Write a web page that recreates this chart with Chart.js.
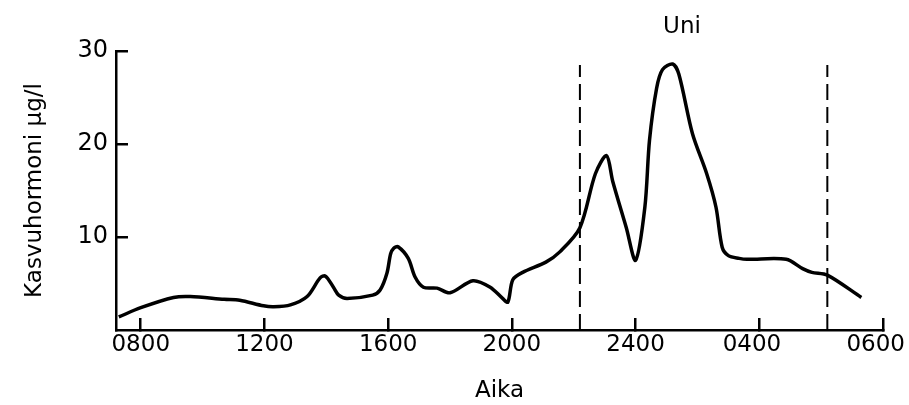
<!DOCTYPE html>
<html>
<head>
<meta charset="utf-8">
<script src="https://cdn.jsdelivr.net/npm/chart.js@4"></script>
<style>
    html, body { margin: 0; padding: 0; background: #fff; }
    canvas { display: block; }
</style>
</head>
<body>
<canvas id="growthChart" width="909" height="405"></canvas>
<script>
// tick labels as printed on the time axis (evenly spaced in the original)
const tickLabels = ['0800', '1200', '1600', '2000', '2400', '0400', '0600'];
const tickHours = [0, 4, 8, 12, 16, 20, 24];
const yTicks = [10, 20, 30];

// hours along the drawn axis (0 = 0800) and hormone level, µg/l
const hours = [-0.71, 0, 1.06, 1.6, 2.7, 3.2, 3.97, 4.3, 4.84, 5.38, 5.8, 5.97, 6.23, 6.4, 6.67,
    7.5, 7.74, 7.96, 8.08, 8.18, 8.32, 8.65, 8.87, 9.14, 9.58, 10, 10.74, 11.3, 11.7, 11.87, 12.03,
    12.35, 13.1, 13.55, 14.2, 14.7, 15.06, 15.26, 15.7, 16.0, 16.3, 16.45, 16.68, 16.87, 17.2,
    17.4, 17.84, 18.3, 18.6, 18.8, 19.0, 19.35, 19.6, 20.87, 21.4, 21.7, 22.2, 23.3];
const hormone = [1.4, 2.4, 3.5, 3.6, 3.3, 3.2, 2.6, 2.5, 2.7, 3.6, 5.6, 5.8, 4.6, 3.75, 3.4,
    3.75, 4.3, 6.1, 8.2, 8.8, 8.95, 7.7, 5.7, 4.6, 4.5, 4.0, 5.3, 4.6, 3.4, 3.0, 5.4,
    6.2, 7.3, 8.4, 11, 16.8, 18.75, 16, 11, 7.5, 13.2, 20.4, 26, 28, 28.6,
    27.5, 21.1, 16.8, 13.2, 8.9, 8.0, 7.7, 7.6, 7.6, 6.6, 6.2, 5.9, 3.5];

// sleep period ("Uni") markers
const sleepStart = 14.2;
const sleepEnd = 22.2;
const sleepLineTop = 28.5;
const uniAt = 17.5;
const uniLevel = 32.6;

const ink = '#000';
Chart.defaults.font.family = '"DejaVu Sans", sans-serif';
Chart.defaults.color = ink;

const uniLabel = {
    id: 'uniLabel',
    afterDatasetsDraw(chart) {
        const { ctx, scales: { x, y } } = chart;
        ctx.save();
        ctx.font = '23px "DejaVu Sans"';
        ctx.fillStyle = ink;
        ctx.textAlign = 'center';
        ctx.textBaseline = 'middle';
        ctx.fillText('Uni', x.getPixelForValue(uniAt), y.getPixelForValue(uniLevel));
        ctx.restore();
    }
};

const sleepLine = (h) => ({
    data: [{ x: h, y: 0 }, { x: h, y: sleepLineTop }],
    borderColor: ink,
    borderWidth: 2,
    borderDash: [16, 7],
    pointRadius: 0,
    tension: 0,
    fill: false
});

const ctx = document.getElementById('growthChart').getContext('2d');
const growthChart = new Chart(ctx, {
    type: 'line',
    data: {
        datasets: [
            {
                data: hours.map((h, i) => ({ x: h, y: hormone[i] })),
                borderColor: ink,
                borderWidth: 3.5,
                borderJoinStyle: 'round',
                pointRadius: 0,
                tension: 0.3,
                fill: false
            },
            sleepLine(sleepStart),
            sleepLine(sleepEnd)
        ]
    },
    options: {
        responsive: false,
        animation: false,
        layout: { padding: { top: 51, right: 26, left: 0, bottom: 0 } },
        plugins: {
            legend: { display: false },
            tooltip: { enabled: false }
        },
        scales: {
            x: {
                type: 'linear',
                min: -0.8,
                max: 24,
                afterBuildTicks: scale => { scale.ticks = tickHours.map(v => ({ value: v })); },
                afterFit: scale => { scale.height = 75; scale.paddingLeft = 0; scale.paddingRight = 0; },
                ticks: {
                    // the last two labels sit a little left of their ticks in the original
                    callback: v => tickLabels[tickHours.indexOf(v)] + (v > 16 ? '\u2007' : ''),
                    padding: 13,
                    color: ink,
                    font: { size: 23 },
                    maxRotation: 0,
                    autoSkip: false
                },
                grid: { drawOnChartArea: false, tickLength: -12, color: ink, lineWidth: 2.5 },
                border: { color: ink, width: 2.5 },
                title: { display: true, text: 'Aika', color: ink, font: { size: 23 }, padding: { top: 0, bottom: 0 } }
            },
            y: {
                min: 0,
                max: 30,
                afterBuildTicks: scale => { scale.ticks = yTicks.map(v => ({ value: v })); },
                afterFit: scale => { scale.width = 116; scale.paddingTop = 0; scale.paddingBottom = 0; },
                ticks: { padding: 20, color: ink, font: { size: 24 } },
                grid: { drawOnChartArea: false, tickLength: -12, color: ink, lineWidth: 2.5 },
                border: { color: ink, width: 2.5 },
                title: { display: true, text: 'Kasvuhormoni µg/l', color: ink, font: { size: 23 }, padding: { top: 21, bottom: 0 } }
            }
        }
    },
    plugins: [uniLabel]
});
</script>
</body>
</html>
